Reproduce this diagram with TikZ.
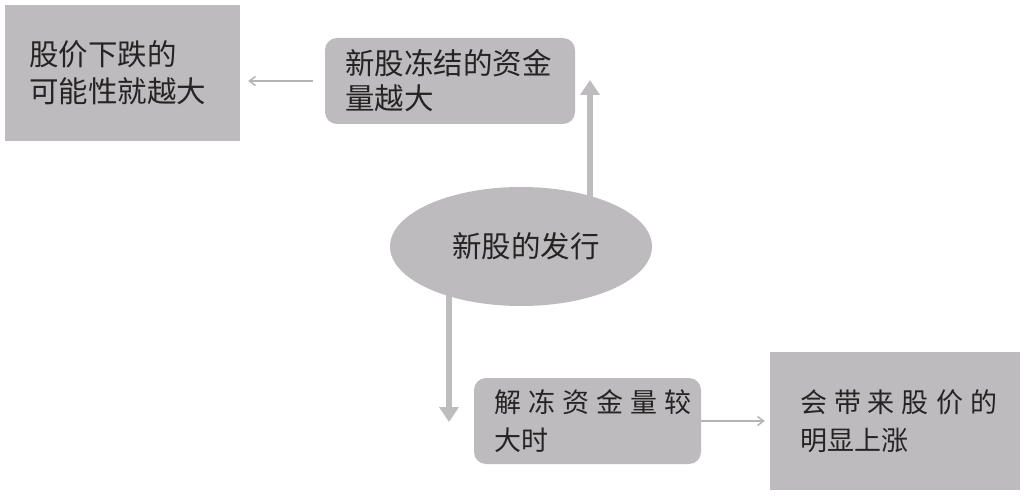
\documentclass[tikz,border=0pt]{standalone}
\usepackage{fontspec}
\setmainfont{Noto Sans CJK SC}
\usetikzlibrary{arrows.meta,shapes.geometric,backgrounds}
\definecolor{boxgray}{HTML}{BDBBBD}
\definecolor{thickgray}{HTML}{BEBCBE}
\definecolor{thingray}{HTML}{B4B4B4}
\definecolor{txt}{HTML}{262324}
\begin{document}
\begin{tikzpicture}[x=1pt,y=-1pt,
  every node/.style={text=txt},
  sqbox/.style={rectangle,fill=boxgray,inner ysep=0pt,align=left,font=\fontsize{29.5}{37}\selectfont},
  rbox/.style={rectangle,rounded corners=12pt,fill=boxgray,inner ysep=0pt,align=left,font=\fontsize{29.5}{35}\selectfont},
  oval/.style={ellipse,fill=boxgray,inner sep=0pt,minimum width=262pt,minimum height=119pt,font=\fontsize{29.5}{35}\selectfont},
  thickarrow/.style={line width=6pt,draw=thickgray,-{Triangle[width=19pt,length=15pt]}},
  thinarrow/.style={line width=1.5pt,draw=thingray,-{Straight Barb[length=6pt,width=9pt,line width=1.5pt]}}
]
\useasboundingbox (0,0) rectangle (1025,497);

\node[sqbox,minimum height=136pt,inner xsep=24pt,text width=187pt] (b1) at (122.5,73) {股价下跌的\\可能性就越大};
\node[rbox,minimum height=86pt,inner xsep=20pt,text width=210pt] (b2) at (450,81) {新股冻结的资金\\量越大};
\node[oval] (e) at (521,246.5) {\hspace*{10pt}新股的发行};
\node[rbox,minimum height=86pt,inner xsep=20pt,text width=187pt,font=\fontsize{27}{38}\selectfont] (b3) at (587.5,421)
  {\makebox[198pt][s]{解\hfill 冻\hfill 资\hfill 金\hfill 量\hfill 较}\\大时};
\node[sqbox,minimum height=138pt,inner xsep=30pt,text width=190pt,font=\fontsize{27}{38}\selectfont] (b4) at (895,421)
  {\makebox[197pt][s]{会\hfill 带\hfill 来\hfill 股\hfill 价\hfill 的}\\明显上涨};

\coordinate (upE) at (590,80);
\coordinate (dnE) at (449,422);

\begin{scope}[on background layer]
  \draw[thickarrow] (upE |- e.center) -- (upE);
  \draw[thickarrow] (dnE |- e.center) -- (dnE);
\end{scope}

\draw[thinarrow,shorten <=12pt,shorten >=8pt] (b2.west) -- (b2.west -| b1.east);
\draw[thinarrow,shorten >=5pt] (b3.east) -- (b3.east -| b4.west);
\end{tikzpicture}
\end{document}
